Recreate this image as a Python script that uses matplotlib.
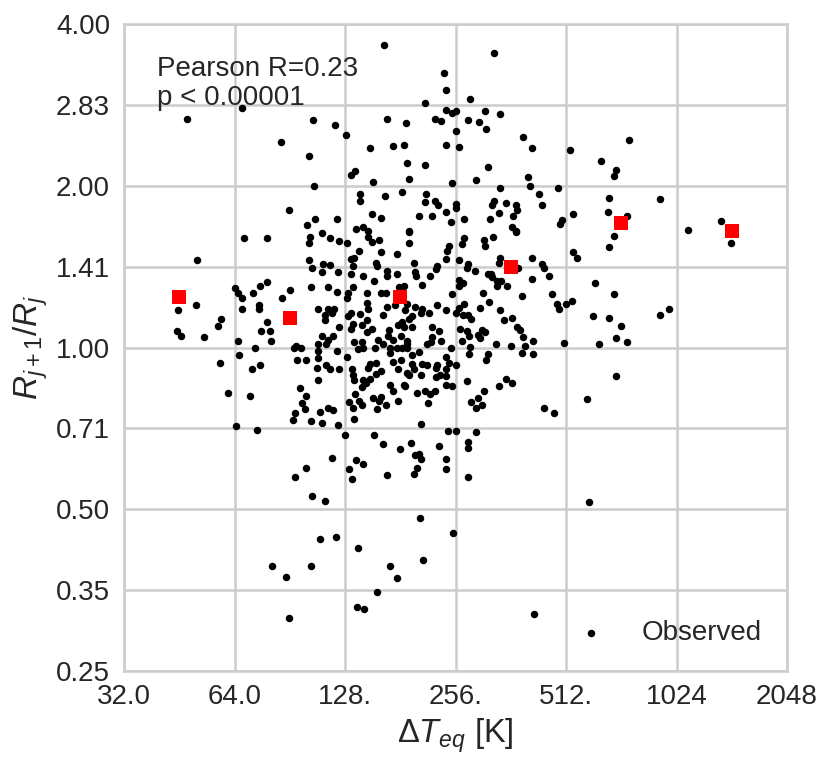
import matplotlib
matplotlib.use("Agg")
import matplotlib.pyplot as plt
import numpy as np

log2_dteq = [
    5.57, 6.07, 6.71, 6.91, 7.01, 6.42, 6.67, 7.05, 7.09, 6.72,
    6.49, 6.73, 6.66, 6.93, 6.68, 6.79, 6.86, 6.09, 6.29, 6.95,
    7.35, 8.35, 7.90, 7.91, 8.13, 7.72, 7.91, 8.00, 7.97, 8.27,
    8.40, 7.81, 7.87, 7.38, 7.55, 8.11, 8.21, 8.28, 8.00, 8.61,
    7.23, 7.43, 7.53, 7.91, 8.03, 8.69, 9.04, 7.56, 7.72, 8.29,
    7.58, 7.25, 7.97, 8.19, 8.66, 8.40, 8.67, 8.93, 7.52, 7.14,
    7.14, 7.36, 7.73, 7.72, 7.81, 7.84, 8.76, 8.00, 8.00, 8.35,
    8.33, 8.46, 8.55, 8.56, 8.78, 7.24, 7.33, 7.67, 7.79, 7.91,
    8.08, 7.96, 8.31, 8.39, 8.52, 8.96, 8.95, 7.10, 7.16, 7.21,
    7.58, 8.51, 8.55, 8.08, 8.26, 8.34, 7.21, 7.24, 7.31,
    5.66, 6.29, 6.23, 6.00, 6.03, 6.07, 6.17, 6.50, 6.43, 5.65,
    5.49, 6.07, 6.22, 6.22, 5.88, 5.85, 6.29, 5.48, 5.52, 5.72,
    6.24, 6.32, 6.33, 6.03, 6.19, 6.04, 5.87, 6.16, 6.23, 5.94,
    6.14, 6.54,
    6.67, 7.02, 7.13, 7.33, 7.47, 7.08, 7.05, 6.67, 6.80, 6.86,
    6.70, 7.07, 7.28, 7.29, 6.79, 6.94, 7.05, 7.16, 7.38, 7.38,
    7.47, 7.26, 6.69, 6.85, 6.93, 7.07, 7.03, 7.02, 7.20, 7.33,
    7.37, 7.49, 7.53, 7.20, 7.38, 7.45, 6.76, 6.90, 6.85, 6.88,
    6.82, 6.82, 7.21, 7.14, 7.05, 7.03, 7.34, 7.54, 7.20, 7.15,
    7.07, 7.05, 6.95, 7.48, 7.40, 7.24, 7.20, 7.51, 7.39, 7.43,
    6.79, 6.89, 6.85, 6.83, 6.76, 7.08, 7.15, 7.30, 7.34, 6.56,
    6.60, 6.93, 7.27, 7.16, 7.12, 7.41, 7.47, 7.52, 6.76,
    7.02, 7.41, 6.76, 6.57, 6.65, 7.43, 7.51, 7.28, 7.23, 7.21,
    6.75, 6.83, 6.86, 6.95, 7.06, 7.48, 7.07, 7.33, 7.28, 7.23,
    7.08, 7.16, 6.76, 7.19, 7.15, 7.41, 7.53, 7.43, 6.59, 6.65,
    7.09, 7.25, 7.33, 7.31, 7.13, 7.48, 7.04, 6.61, 7.15, 7.37,
    6.64, 6.85, 6.89, 7.07, 7.29, 6.55, 6.77, 6.53, 6.69, 6.79,
    7.08, 6.94, 7.00, 7.26, 7.34, 7.50, 6.88, 7.10,
    7.58, 7.58, 8.06, 8.27, 8.55, 7.94, 7.92, 7.91, 7.62, 8.03,
    8.40, 8.39, 8.69, 8.78, 8.80, 8.57, 8.11, 8.10, 7.83, 7.82,
    8.18, 7.63, 7.64, 7.77, 8.29, 8.32, 8.33, 8.85, 8.69, 8.03,
    8.07, 8.03, 8.38, 8.41, 8.38, 8.47, 7.70, 7.97, 8.25, 8.60,
    8.87, 8.30, 8.08, 8.03, 8.00, 8.22, 8.40, 8.92, 8.94, 9.00,
    7.63, 7.83, 7.56, 7.70, 7.69, 7.76, 7.91, 8.07, 8.11, 8.14,
    8.44, 8.51, 7.61, 7.58, 7.52, 7.61, 7.53, 7.79, 7.85, 8.04,
    8.10, 8.12, 8.24, 8.27, 8.20, 8.22, 8.06, 8.56, 8.58, 8.61,
    8.70, 7.79, 7.78, 7.87, 7.74, 7.56, 7.56, 8.37, 8.50, 8.63,
    8.98, 7.96, 8.13, 7.56, 7.67, 7.61, 8.12, 8.29, 8.28, 8.60,
    8.70, 7.91, 7.94, 8.00, 7.61, 7.62, 7.70, 7.74, 7.83, 7.82,
    7.91, 7.56, 7.58, 7.69, 7.82, 7.86, 7.91, 8.10, 7.54, 7.91,
    7.97, 8.46, 8.39, 8.51, 8.26, 7.65, 7.72, 7.77, 7.81, 8.20,
    8.14, 8.19, 8.24, 7.75, 8.80, 8.89,
    9.57, 9.32, 9.45, 9.43, 9.39, 9.85, 9.38, 9.55, 9.06, 9.43,
    9.39, 9.06, 9.10, 10.10, 10.40, 10.49, 9.26, 9.43, 9.05, 9.24,
    9.39, 9.50, 9.85, 9.93, 9.45, 9.55, 9.30, 9.45, 9.19,
    6.01, 6.20, 7.60, 7.69, 7.93, 8.00, 8.19, 7.85, 8.11, 8.11,
    7.63, 7.67, 7.69, 7.91, 7.65, 7.62, 7.91, 8.11, 7.16, 7.04,
    7.06, 7.38, 6.65, 6.55, 6.70, 6.82, 7.68, 7.98, 6.92, 6.77,
    7.12, 7.71, 7.41, 6.69, 6.34, 6.47, 7.47, 7.29, 7.11, 7.17,
    6.49, 8.71, 9.21,
]
log2_ratio = [
    1.415, 1.483, 1.409, 1.378, 1.316, 1.273, 1.187, 1.069, 1.094, 1.001,
    .847, .797, .760, .797, .686, .705, .674, .674, .674, .661,
    1.873, 1.823, 1.700, 1.594, 1.539, 1.514, 1.471, 1.465, 1.452, 1.465,
    1.446, 1.415, 1.403, 1.415, 1.391, 1.409, 1.397, 1.353, 1.341, 1.304,
    1.236, 1.248, 1.255, 1.255, 1.242, 1.236, 1.224, 1.143, 1.131, 1.119,
    1.044, 1.026, 1.020, 1.038, 1.057, .989, 1.001, .983, .964, .946,
    .908, .939, .946, .902, .908, .878, .952, .890, .865, .908,
    .878, .896, .884, .853, .884, .828, .803, .810, .810, .840,
    .797, .773, .797, .834, .810, .791, .766, .735, .748, .723,
    .723, .748, .723, .680, .667, .686, .686, .655, .667,
    .538, .402, .383, .365, .340, .309, .334, .358, .309, .260,
    .229, .235, .260, .235, .179, .130, .155, .105, .074, .068,
    .099, .105, .043, .043, -.006, -.049, -.093, -.130, -.111, -.284,
    -.297, 0.0,
    .649, .643, .599, .593, .581, .556, .550, .538, .519, .507,
    .494, .501, .525, .501, .464, .464, .457, .445, .476, .445,
    .457, .414, .371, .377, .346, .371, .340, .309, .340, .340,
    .334, .371, .383, .278, .253, .260, .235, .241, .235, .216,
    .198, .167, .235, .210, .216, .192, .198, .229, .167, .142,
    .148, .117, .124, .142, .111, .117, .093, .074, .074, .049,
    .074, .074, .049, .019, .019, .037, .031, .049, .019, .012,
    0.0, -.019, 0.0, 0.0, -.012, -.006, -.006, 0.0, -.019,
    -.056, -.037, -.068, -.080, -.080, -.087, -.080, -.093, -.099, -.124,
    -.124, -.111, -.130, -.136, -.130, -.136, -.167, -.148, -.161, -.192,
    -.204, -.204, -.198, -.222, -.247, -.229, -.229, -.272, -.253, -.297,
    -.290, -.315, -.309, -.328, -.328, -.328, -.334, -.346, -.358, -.358,
    -.383, -.371, -.389, -.377, -.383, -.402, -.396, -.451, -.457, -.464,
    -.439, -.482, -.538, -.544, -.599, -.630, -.686, -.698,
    .717, .643, .637, .630, .717, .630, .599, .550, .525, .538,
    .556, .525, .556, .519, .494, .494, .519, .494, .501, .488,
    .470, .464, .439, .445, .457, .457, .433, .445, .426, .420,
    .396, .383, .414, .414, .383, .383, .389, .328, .334, .321,
    .328, .284, .266, .247, .216, .247, .229, .272, .235, .272,
    .253, .260, .272, .241, .216, .216, .229, .198, .204, .179,
    .173, .185, .192, .179, .155, .124, .124, .124, .099, .117,
    .105, .074, .111, .093, .080, .056, .043, .124, .111, .062,
    .043, .062, .037, .043, .019, .043, .019, .019, .012, .012,
    .025, 0.0, .006, -.006, -.025, -.049, -.043, -.043, -.080, -.037,
    -.043, -.056, -.093, -.111, -.105, -.130, -.105, -.111, -.111, -.124,
    -.130, -.155, -.173, -.167, -.185, -.167, -.179, -.210, -.235, -.229,
    -.235, -.192, -.235, -.222, -.266, -.284, -.272, -.290, -.266, -.315,
    -.334, -.371, -.358, -.346, -.377, -.402,
    1.285, 1.156, 1.100, 1.063, .927, .921, .840, .816, .828, .692,
    .624, .593, .556, .729, .785, .649, .396, .328, .290, .192,
    .185, .136, .198, .235, .056, .037, .019, -.179, -.321,
    -.488, -.513, -.593, -.470, -.519, -.519, -.525, -.606, -.587, -.624,
    -.667, -.661, -.692, -.692, -.748, -.779, -.754, -.803, -.723, -.754,
    -.810, -.791, -.742, -.803, -.921, -.946, -1.057, -1.149, -1.174, -1.187,
    -1.242, -1.316, -1.353, -1.353, -1.353, -1.421, -1.428, -1.514, -1.607, -1.619,
    -1.675, -1.650, -.958,
]

# binned means (red squares)
log2_dteq_bins = [5.5, 6.5, 7.5, 8.5, 9.5, 10.5]
log2_ratio_bins = [.315, .185, .315, .50, .772, .723]

xticks = [32, 64, 128, 256, 512, 1024, 2048]
xtick_labels = ["32.0", "64.0", "128.", "256.", "512.", "1024", "2048"]
yticks = [0.25, 0.35355, 0.5, 0.7071, 1.0, 1.4142, 2.0, 2.8284, 4.0]
ytick_labels = ["0.25", "0.35", "0.50", "0.71", "1.00", "1.41", "2.00", "2.83", "4.00"]

plt.rcParams["font.family"] = ["Liberation Sans", "DejaVu Sans"]
plt.rcParams["mathtext.fontset"] = "custom"
plt.rcParams["mathtext.rm"] = "Liberation Sans"
plt.rcParams["mathtext.it"] = "Liberation Sans:italic"
plt.rcParams["text.color"] = "0.15"
plt.rcParams["axes.labelcolor"] = "0.15"
plt.rcParams["xtick.color"] = "0.15"
plt.rcParams["ytick.color"] = "0.15"

fig = plt.figure(figsize=(8.3, 7.67), dpi=100)
ax = fig.add_axes([124 / 830, 96 / 767, 663 / 830, 647 / 767])

ax.scatter(2 ** np.array(log2_dteq), 2 ** np.array(log2_ratio), s=29, c="k",
           linewidths=0, zorder=3, label="Observed")
ax.scatter(2 ** np.array(log2_dteq_bins), 2 ** np.array(log2_ratio_bins), s=100,
           c="r", marker="s", linewidths=0, zorder=4)

ax.set_xscale("log", base=2)
ax.set_yscale("log", base=2)
ax.set_xlim(32, 2048)
ax.set_ylim(0.25, 4)
ax.set_xticks(xticks, xtick_labels)
ax.set_yticks(yticks, ytick_labels)
ax.minorticks_off()
ax.tick_params(length=0, labelsize=20, pad=10)
ax.tick_params(axis="x", pad=9)

ax.grid(True, color="0.8", lw=1.8)
ax.set_axisbelow(True)
for spine in ax.spines.values():
    spine.set_color("0.8")
    spine.set_linewidth(1.8)

ax.set_xlabel(r"$\Delta T_{eq}$ [K]", fontsize=23.5, labelpad=5)
ax.set_ylabel(r"$R_{j+1}/R_j$", fontsize=24, labelpad=4)

ax.text(0.05, 0.95, "Pearson R=0.23\np < 0.00001", transform=ax.transAxes,
        fontsize=20, va="top", ha="left", linespacing=1.15)

ax.legend(loc="lower right", frameon=False, fontsize=20, handletextpad=0.83,
          borderaxespad=0.5, scatterpoints=1)

plt.savefig("out.png", dpi=100)
